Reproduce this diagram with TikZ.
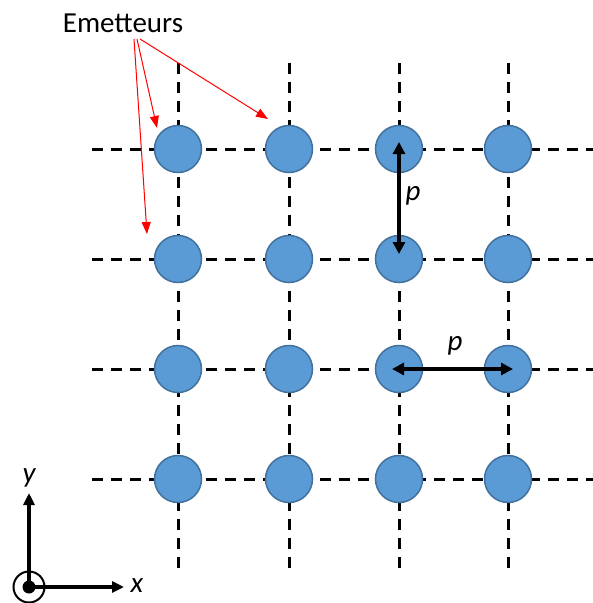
\documentclass[tikz,border=0pt]{standalone}
\usepackage{fontspec}
\setmainfont{Carlito}
\usetikzlibrary{arrows.meta}
\definecolor{emfill}{HTML}{5B9BD5}
\definecolor{emdraw}{HTML}{41719C}
\tikzset{
  emit/.style={circle,draw=emdraw,fill=emfill,line width=1.5pt,minimum size=47pt,inner sep=0pt},
  gridline/.style={black,line width=3pt,dash pattern=on 11pt off 8pt},
  redarrow/.style={red,line width=1pt,-{Triangle[length=12pt,width=9pt]}},
  dimarrow/.style={black,line width=3.2pt,{Triangle[length=12pt,width=12pt]}-{Triangle[length=12pt,width=12pt]}},
  axisarrow/.style={black,line width=3.2pt,-{Triangle[length=12pt,width=11pt]}},
  lbl/.style={font=\fontsize{29}{33}\selectfont\itshape,inner sep=0pt},
}
\begin{document}
\begin{tikzpicture}[x=1pt,y=-1pt]
\useasboundingbox (0,0) rectangle (593,603);
% grid line ends
\foreach \i/\x in {1/178,2/289,3/399,4/508}{
  \coordinate (vt\i) at (\x,63);
  \coordinate (vb\i) at (\x,573);
}
\foreach \j/\y in {1/149,2/259,3/369,4/479}{
  \coordinate (hl\j) at (92,\y);
  \coordinate (hr\j) at (593,\y);
}
\foreach \i in {1,...,4}{
  \draw[gridline] (vt\i) -- (vb\i);
  \draw[gridline] (hl\i) -- (hr\i);
}
% emitters
\foreach \i/\x in {1/178,2/289,3/399,4/508}{
  \foreach \j/\y in {1/149,2/259,3/369,4/479}{
    \node[emit] (c\j\i) at (\x,\y) {};
  }
}
% label
\node[font=\fontsize{29}{33}\selectfont,inner sep=0pt] (em) at (123,23) {Emetteurs};
\coordinate (s1) at (134,39);
\coordinate (s2) at (137,39);
\coordinate (s3) at (140,39);
\coordinate (t1) at (147,234);
\coordinate (t2) at (157,128);
\coordinate (t3) at (268,119);
\draw[redarrow] (s1) -- (t1);
\draw[redarrow] (s2) -- (t2);
\draw[redarrow] (s3) -- (t3);
% pitch arrows
\coordinate (pa) at (399,142);
\coordinate (pb) at (399,254);
\draw[dimarrow] (pa) -- (pb);
\node[lbl] (p1) at (413,196) {p};
\coordinate (pc) at (392,369);
\coordinate (pd) at (513,369);
\draw[dimarrow] (pc) -- (pd);
\node[lbl] (p2) at (455,346) {p};
% axes
\node[circle,draw=black,line width=2pt,minimum size=31pt,inner sep=0pt] (o) at (29,587) {};
\node[circle,fill=black,minimum size=13pt,inner sep=0pt] (od) at (29,587) {};
\coordinate (ya) at (29,493);
\coordinate (xa) at (124,587);
\draw[axisarrow] (o.center) -- (ya);
\draw[axisarrow] (o.center) -- (xa);
\node[lbl] (yl) at (29,478) {y};
\node[lbl] (xl) at (137,586) {x};
\end{tikzpicture}
\end{document}
